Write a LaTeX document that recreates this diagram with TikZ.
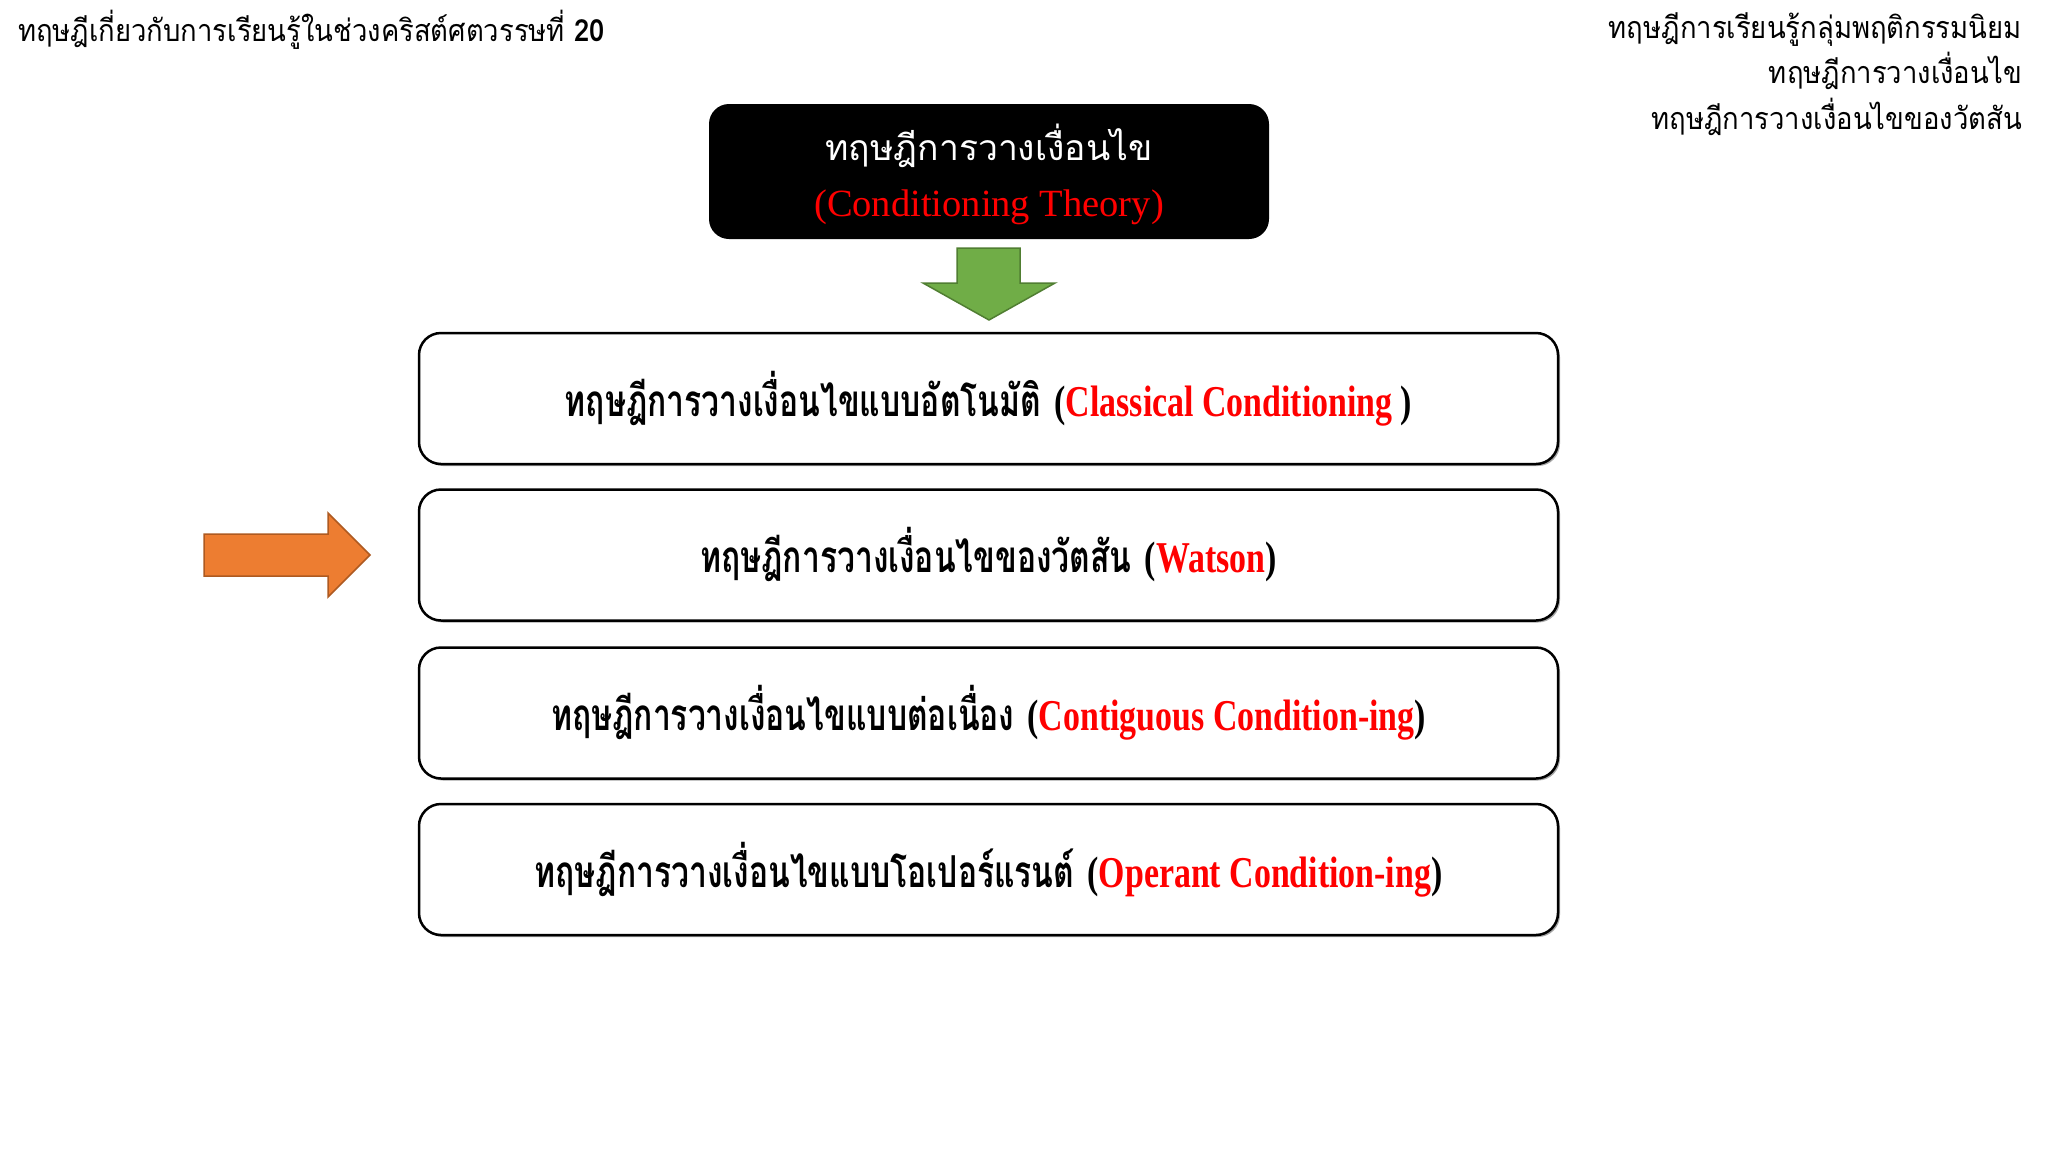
\documentclass[tikz,border=0pt]{standalone}
\usepackage{fontspec}
\usetikzlibrary{shadows}
\newfontfamily\thaisans[Script=Thai,FakeStretch=0.9]{Loma}
\newfontfamily\thaititle[Script=Thai]{Loma}
\newfontfamily\thaibox[Script=Thai,FakeStretch=0.724]{Loma}
\newfontfamily\romanc[FakeStretch=0.77]{Liberation Serif}
\newfontfamily\romanr{Liberation Serif}
\definecolor{greenfill}{HTML}{70AD47}
\definecolor{greenline}{HTML}{507E32}
\definecolor{orangefill}{HTML}{ED7D31}
\definecolor{orangeline}{HTML}{AE5A21}
\definecolor{txtred}{HTML}{FF0000}
\tikzset{
  itembox/.style={draw=black, line width=2.5pt, fill=white, rounded corners=22pt,
    minimum width=1139pt, minimum height=131pt, inner sep=0pt,
    drop shadow={shadow xshift=2pt, shadow yshift=-2pt, opacity=0.35, fill=black}},
  itemtext/.style={inner sep=0pt, font=\fontsize{44}{50}\selectfont},
  headtext/.style={inner sep=0pt, font=\thaisans\fontsize{30.5}{45.5}\selectfont},
  garrow/.style={fill=greenfill, draw=greenline, line width=1.5pt},
  oarrow/.style={fill=orangefill, draw=orangeline, line width=1.5pt}
}
\newcommand{\thb}[1]{{\thaibox\bfseries #1}}
\newcommand{\enb}[1]{{\romanc\bfseries #1}}
\begin{document}
\begin{tikzpicture}[x=1pt,y=-1pt]
\useasboundingbox[fill=white] (0,0) rectangle (2048,1152);

% headers
\node[headtext, anchor=west] (hdrleft) at (18,30)
  {ทฤษฎีเกี่ยวกับการเรียนรู้ในช่วงคริสต์ศตวรรษที่ \textbf{20}};
\node[headtext, anchor=north east, align=right] (hdrright) at (2022,12)
  {ทฤษฎีการเรียนรู้กลุ่มพฤติกรรมนิยม\\ทฤษฎีการวางเงื่อนไข\\ทฤษฎีการวางเงื่อนไขของวัตสัน};

% title box
\node[fill=black, rounded corners=20pt, minimum width=560pt, minimum height=135pt, inner sep=0pt] (title) at (989,171.5) {};
\node[inner sep=0pt, text=white, font=\thaititle\fontsize{35.5}{40}\selectfont] (titleth) at (989,146) {ทฤษฎีการวางเงื่อนไข};
\node[inner sep=0pt, text=txtred, font=\romanr\fontsize{38.5}{42}\selectfont] (titleen) at (989,207) {(Conditioning Theory)};

% green arrow
\draw[garrow] (957,248) -- (1020,248) -- (1020,283) -- (1055,283) -- (989,320) -- (923,283) -- (957,283) -- cycle;

% boxes
\node[itembox] (b1) at (988.5,398.5) {};
\node[itembox] (b2) at (988.5,555) {};
\node[itembox] (b3) at (988.5,713) {};
\node[itembox] (b4) at (988.5,869.5) {};

\node[itemtext] (t1) at (b1.center) {\thb{ทฤษฎีการวางเงื่อนไขแบบอัตโนมัติ} \enb{(\textcolor{txtred}{Classical Conditioning} )}};
\node[itemtext] (t2) at (b2.center) {\thb{ทฤษฎีการวางเงื่อนไขของวัตสัน} \enb{(\textcolor{txtred}{Watson})}};
\node[itemtext] (t3) at (b3.center) {\thb{ทฤษฎีการวางเงื่อนไขแบบต่อเนื่อง} \enb{(\textcolor{txtred}{Contiguous Condition-ing})}};
\node[itemtext] (t4) at (b4.center) {\thb{ทฤษฎีการวางเงื่อนไขแบบโอเปอร์แรนต์} \enb{(\textcolor{txtred}{Operant Condition-ing})}};

% orange arrow
\draw[oarrow] (204,534) -- (328,534) -- (328,513) -- (370,555) -- (328,597) -- (328,576) -- (204,576) -- cycle;
\end{tikzpicture}
\end{document}
